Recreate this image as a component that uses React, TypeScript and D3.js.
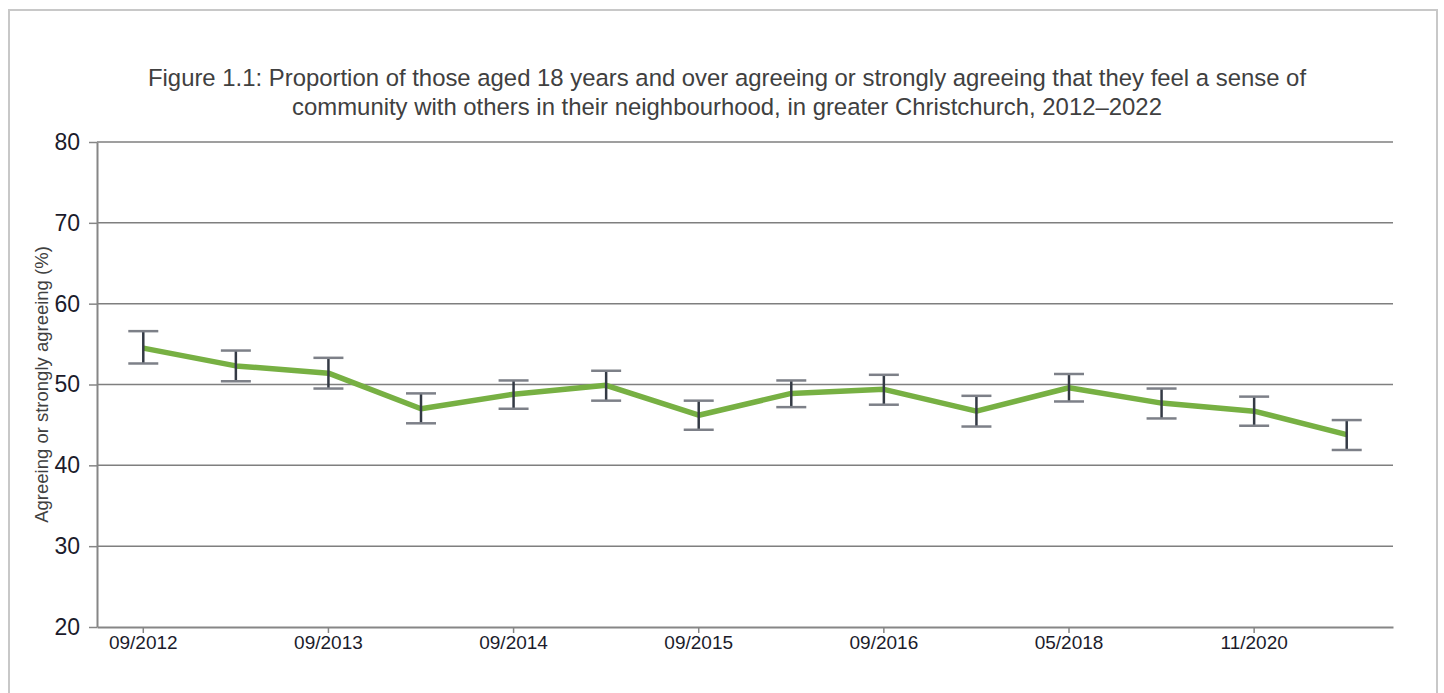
import React, { useRef, useEffect } from "react";
import * as d3 from "d3";

const WIDTH = 1444;
const HEIGHT = 693;

// survey waves (only every other one gets a label on the axis)
const waveLabels = [
  "09/2012", "", "09/2013", "", "09/2014", "", "09/2015",
  "", "09/2016", "", "05/2018", "", "11/2020", "",
];
const agreeing = [54.5, 52.3, 51.4, 47.0, 48.8, 49.9, 46.2, 48.9, 49.4, 46.7, 49.6, 47.7, 46.7, 43.8];
const upper = [56.6, 54.2, 53.3, 48.9, 50.5, 51.7, 48.0, 50.5, 51.2, 48.6, 51.3, 49.5, 48.5, 45.6];
const lower = [52.6, 50.4, 49.5, 45.2, 47.0, 48.0, 44.4, 47.2, 47.5, 44.8, 47.9, 45.8, 44.9, 41.9];
const yTicks = [20, 30, 40, 50, 60, 70, 80];

const titleLines = [
  "Figure 1.1: Proportion of those aged 18 years and over agreeing or strongly agreeing that they feel a sense of",
  "community with others in their neighbourhood, in greater Christchurch, 2012\u20132022",
];

const margin = { top: 142, right: 51, bottom: 66, left: 97 };
const FONT = "'Liberation Sans', Arial, sans-serif";

const App = () => {
  const xAxisRef = useRef<SVGGElement>(null);
  const yAxisRef = useRef<SVGGElement>(null);

  const idx = waveLabels.map((_, i) => i);
  const x = d3
    .scaleBand<number>()
    .domain(idx)
    .range([margin.left, WIDTH - margin.right]);
  const cx = (i: number) => (x(i) as number) + x.bandwidth() / 2;

  const y = d3
    .scaleLinear()
    .domain([20, 80])
    .range([HEIGHT - margin.bottom, margin.top]);

  const line = d3
    .line<number>()
    .x((_, i) => cx(i))
    .y(d => y(d));

  useEffect(() => {
    const xa = d3
      .axisBottom(x)
      .tickValues(idx.filter(i => waveLabels[i] !== ""))
      .tickFormat(i => waveLabels[i as number])
      .tickSize(6)
      .tickSizeOuter(0);
    const gx = d3.select(xAxisRef.current!).call(xa);
    gx.select(".domain").attr("stroke", "#868686").attr("stroke-width", 2);
    gx.selectAll(".tick line").attr("stroke", "#868686").attr("stroke-width", 1.5);
    gx.selectAll(".tick text")
      .attr("font-family", FONT)
      .attr("font-size", 19)
      .attr("fill", "#1b1b2b")
      .attr("y", 5)
      .attr("dy", "0.9em");

    const ya = d3
      .axisLeft(y)
      .tickValues(yTicks)
      .tickSize(8)
      .tickSizeOuter(0);
    const gy = d3.select(yAxisRef.current!).call(ya);
    gy.select(".domain").attr("stroke", "#868686").attr("stroke-width", 2);
    gy.selectAll(".tick line").attr("stroke", "#868686").attr("stroke-width", 1.5);
    gy.selectAll(".tick text")
      .attr("font-family", FONT)
      .attr("font-size", 23)
      .attr("fill", "#1b1b2b")
      .attr("x", -17);
  });

  const capHalf = 15;

  return (
    <svg
      width={WIDTH}
      height={HEIGHT}
      style={{ position: "absolute", left: 0, top: 0, background: "#fff" }}
    >
      <rect x={9} y={10} width={1428} height={HEIGHT} fill="#fff" stroke="#c8c8c8" strokeWidth={2} />

      <text textAnchor="middle" fontFamily={FONT} fontSize={23.9} fill="#404040">
        {titleLines.map((t, i) => (
          <tspan key={i} x={727} y={86 + i * 29}>{t}</tspan>
        ))}
      </text>

      {/* gridlines */}
      {yTicks.filter(t => t > 20).map(t => (
        <line
          key={t}
          x1={margin.left}
          x2={WIDTH - margin.right}
          y1={y(t)}
          y2={y(t)}
          stroke="#7f7f7f"
          strokeWidth={1.5}
        />
      ))}

      <g ref={xAxisRef} transform={`translate(0, ${HEIGHT - margin.bottom})`} />
      <g ref={yAxisRef} transform={`translate(${margin.left}, 0)`} />

      <text
        transform={`translate(48, ${(margin.top + HEIGHT - margin.bottom) / 2}) rotate(-90)`}
        textAnchor="middle"
        fontFamily={FONT}
        fontSize={18.5}
        fill="#404040"
      >
        Agreeing or strongly agreeing (%)
      </text>

      <path
        d={line(agreeing) as string}
        fill="none"
        stroke="#77b043"
        strokeWidth={5.5}
        strokeLinejoin="round"
      />

      {agreeing.map((_, i) => (
        <g key={i}>
          <line x1={cx(i)} x2={cx(i)} y1={y(upper[i])} y2={y(lower[i])} stroke="#343a45" strokeWidth={2.5} />
          <line x1={cx(i) - capHalf} x2={cx(i) + capHalf} y1={y(upper[i])} y2={y(upper[i])} stroke="#7d8088" strokeWidth={2.5} />
          <line x1={cx(i) - capHalf} x2={cx(i) + capHalf} y1={y(lower[i])} y2={y(lower[i])} stroke="#7d8088" strokeWidth={2.5} />
        </g>
      ))}
    </svg>
  );
};

export default App;
